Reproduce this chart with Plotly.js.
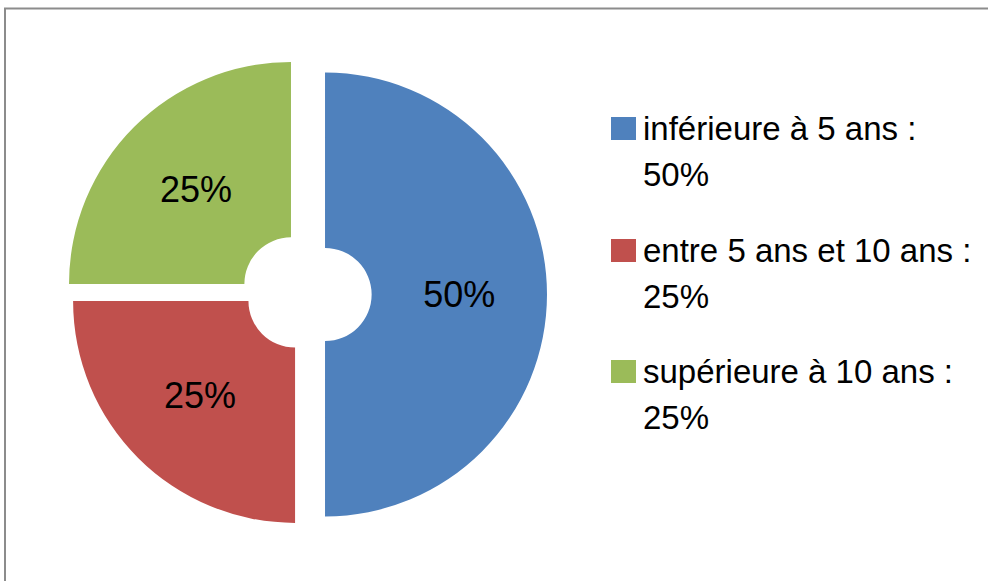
<!DOCTYPE html>
<html>
<head>
<meta charset="utf-8">
<script src="https://cdn.plot.ly/plotly-3.0.1.min.js"></script>
<style>
  html, body { margin: 0; padding: 0; background: #ffffff; }
  #chart { width: 988px; height: 581px; }
</style>
</head>
<body>
<div id="chart"></div>
<script>
// ---- data ----
const categories = ['inférieure à 5 ans :', 'entre 5 ans et 10 ans :', 'supérieure à 10 ans :'];
const values = [50, 25, 25];
const colors = ['#4F81BD', '#C0504D', '#9BBB59'];
const pulls = [0.106, 0.041, 0.067];

const W = 988, H = 581;
const px = x => x / W;
const py = y => 1 - y / H;
const total = values.reduce((a, b) => a + b, 0);
const FONT = 'Liberation Sans, Arial, sans-serif';

const trace = {
  type: 'pie',
  labels: categories,
  values: values,
  sort: false,
  direction: 'clockwise',
  rotation: 0,
  hole: 0.21,
  pull: pulls,
  marker: { colors: colors, line: { width: 0 } },
  textinfo: 'percent',
  textposition: 'inside',
  insidetextorientation: 'horizontal',
  textfont: { family: FONT, size: 36, color: '#000000' },
  hoverinfo: 'none',
  showlegend: false,
  domain: { x: [px(56), px(547)], y: [py(540), py(49)] }
};

// legend built by hand (large swatches like the original)
const entryBaselines = [140, 262, 383];
const lineGap = 46;
const annotations = [];
const shapes = [];
categories.forEach((c, i) => {
  const b = entryBaselines[i];
  annotations.push({
    xref: 'paper', yref: 'paper', x: px(641), y: py(b - 11.5),
    xanchor: 'left', yanchor: 'middle', showarrow: false, align: 'left',
    text: c, font: { family: FONT, size: 33, color: '#000000' }
  });
  annotations.push({
    xref: 'paper', yref: 'paper', x: px(641), y: py(b + lineGap - 11.5),
    xanchor: 'left', yanchor: 'middle', showarrow: false, align: 'left',
    text: Math.round(values[i] / total * 100) + '%',
    font: { family: FONT, size: 33, color: '#000000' }
  });
  shapes.push({
    type: 'rect', xref: 'paper', yref: 'paper',
    x0: px(611), x1: px(636), y0: py(b), y1: py(b - 23),
    fillcolor: colors[i], line: { width: 0 }
  });
});
// outer chart frame (only top & left visible in the crop)
shapes.push({
  type: 'rect', xref: 'paper', yref: 'paper',
  x0: px(5), x1: 1.05, y0: -0.05, y1: py(8.5),
  fillcolor: 'rgba(0,0,0,0)', line: { color: '#8c8c8c', width: 2 }
});

const layout = {
  width: W, height: H,
  margin: { l: 0, r: 0, t: 0, b: 0, pad: 0 },
  paper_bgcolor: '#ffffff',
  plot_bgcolor: '#ffffff',
  showlegend: false,
  annotations: annotations,
  shapes: shapes
};

Plotly.newPlot('chart', [trace], layout, { staticPlot: true, displayModeBar: false });
</script>
</body>
</html>
